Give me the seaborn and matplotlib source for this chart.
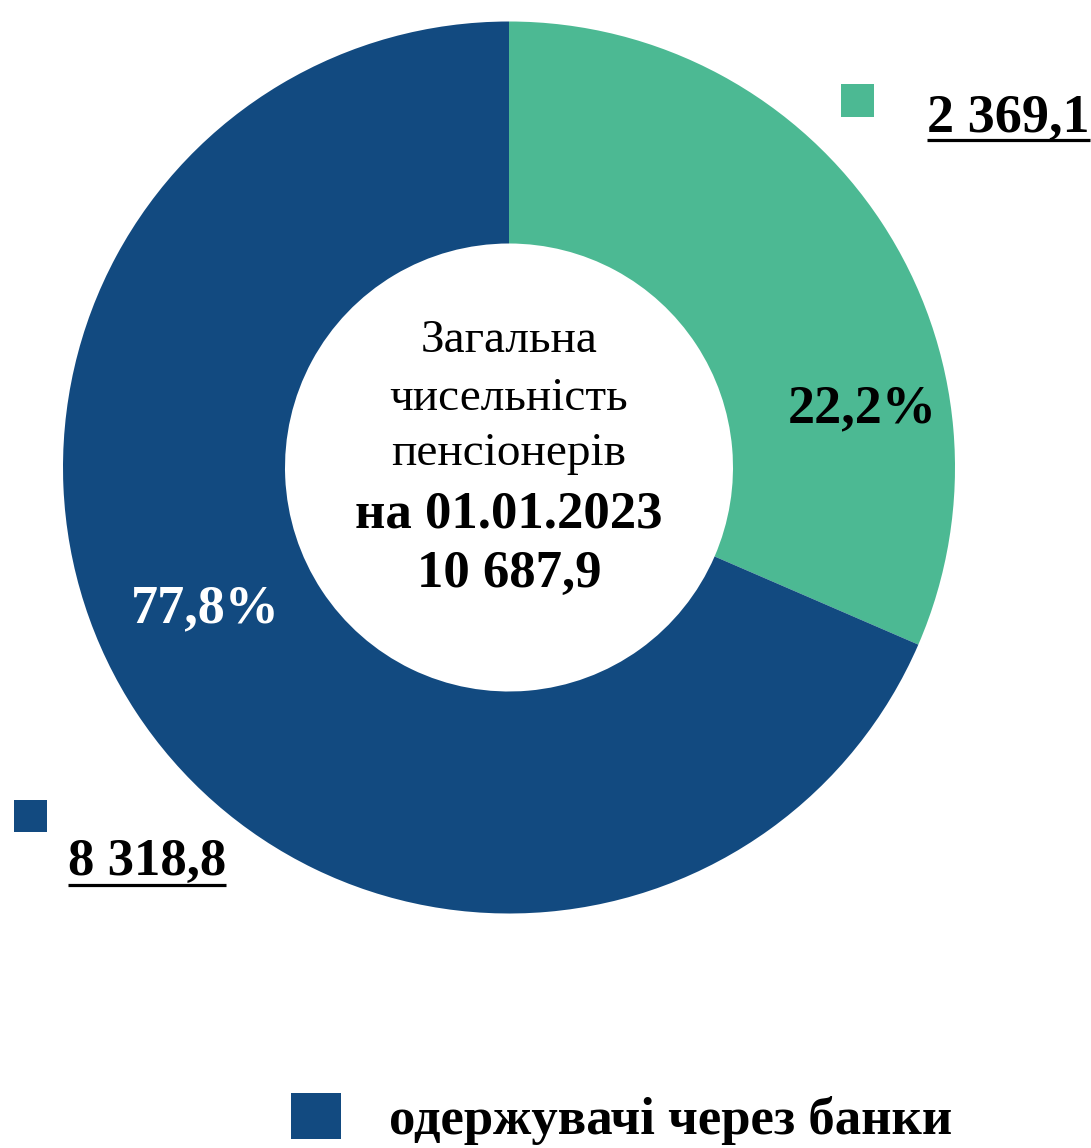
import matplotlib.pyplot as plt
import seaborn as sns

sns.set_theme(style='white')
plt.rcParams['font.family'] = ['Liberation Serif', 'DejaVu Serif']

# values shown on the chart (thousand persons)
pensioners = [2369.1, 8318.8]
total = 10687.9
# shares as the ring is actually drawn in the picture (green ~113 degrees)
drawn_share = [31.5, 68.5]
colors = ['#4CB993', '#124A80']
legend_label = 'одержувачі через банки'
center_lines = ['Загальна', 'чисельність', 'пенсіонерів']
date_line = 'на 01.01.2023'

W, H = 1091, 1148


def Y(py):
    # picture pixel row -> data y
    return H - py


def fmt_num(v):
    s = f'{v:,.1f}'
    return s.replace(',', ' ').replace('.', ',')


def fmt_pct(v):
    return f'{v / total * 100:.1f}'.replace('.', ',') + '%'


fig = plt.figure(figsize=(W / 100, H / 100), dpi=100)
ax = fig.add_axes([0, 0, 1, 1])

wedges, _ = ax.pie(drawn_share, colors=colors, startangle=90, counterclock=False,
                   radius=446, center=(509, Y(467.5)), frame=True,
                   wedgeprops=dict(width=222, linewidth=0))
ax.set_xlim(0, W)
ax.set_ylim(0, H)
ax.set_aspect('equal')
ax.axis('off')

# centre text
for line, py in zip(center_lines, [352, 410, 465]):
    ax.text(509, Y(py), line, ha='center', va='baseline', fontsize=34, color='black')
ax.text(509, Y(527), date_line, ha='center', va='baseline', fontsize=38,
        fontweight='bold', color='black')
ax.text(509, Y(587), fmt_num(total), ha='center', va='baseline', fontsize=38,
        fontweight='bold', color='black')

# percentages inside the ring
ax.text(862, Y(422), fmt_pct(pensioners[0]), ha='center', va='baseline',
        fontsize=39, fontweight='bold', color='black')
ax.text(205, Y(622), fmt_pct(pensioners[1]), ha='center', va='baseline',
        fontsize=39, fontweight='bold', color='white')

# value labels with small colour squares
ax.scatter([857.5, 30.5], [Y(100.5), Y(816)], marker='s', s=[560, 560],
           c=colors, linewidths=0)
t1 = ax.text(927, Y(131), fmt_num(pensioners[0]), ha='left', va='baseline',
             fontsize=39, fontweight='bold', color='black')
t2 = ax.text(68, Y(875), fmt_num(pensioners[1]), ha='left', va='baseline',
             fontsize=38, fontweight='bold', color='black')

fig.canvas.draw()
for t, py in [(t1, 140), (t2, 885)]:
    bb = t.get_window_extent()
    ax.plot([bb.x0, bb.x1], [Y(py), Y(py)], color='black', lw=2.3,
            solid_capstyle='butt')

# legend (only the visible entry)
fig.legend(handles=[wedges[1]], labels=[legend_label], loc='upper left',
           bbox_to_anchor=(291 / W, Y(1093) / H), frameon=False,
           prop={'size': 38, 'weight': 'bold', 'family': 'Liberation Serif'},
           labelcolor='black',
           handlelength=0.95, handleheight=0.95, handletextpad=0.9,
           borderpad=0, borderaxespad=0)

fig.savefig('out.png', dpi=100)
